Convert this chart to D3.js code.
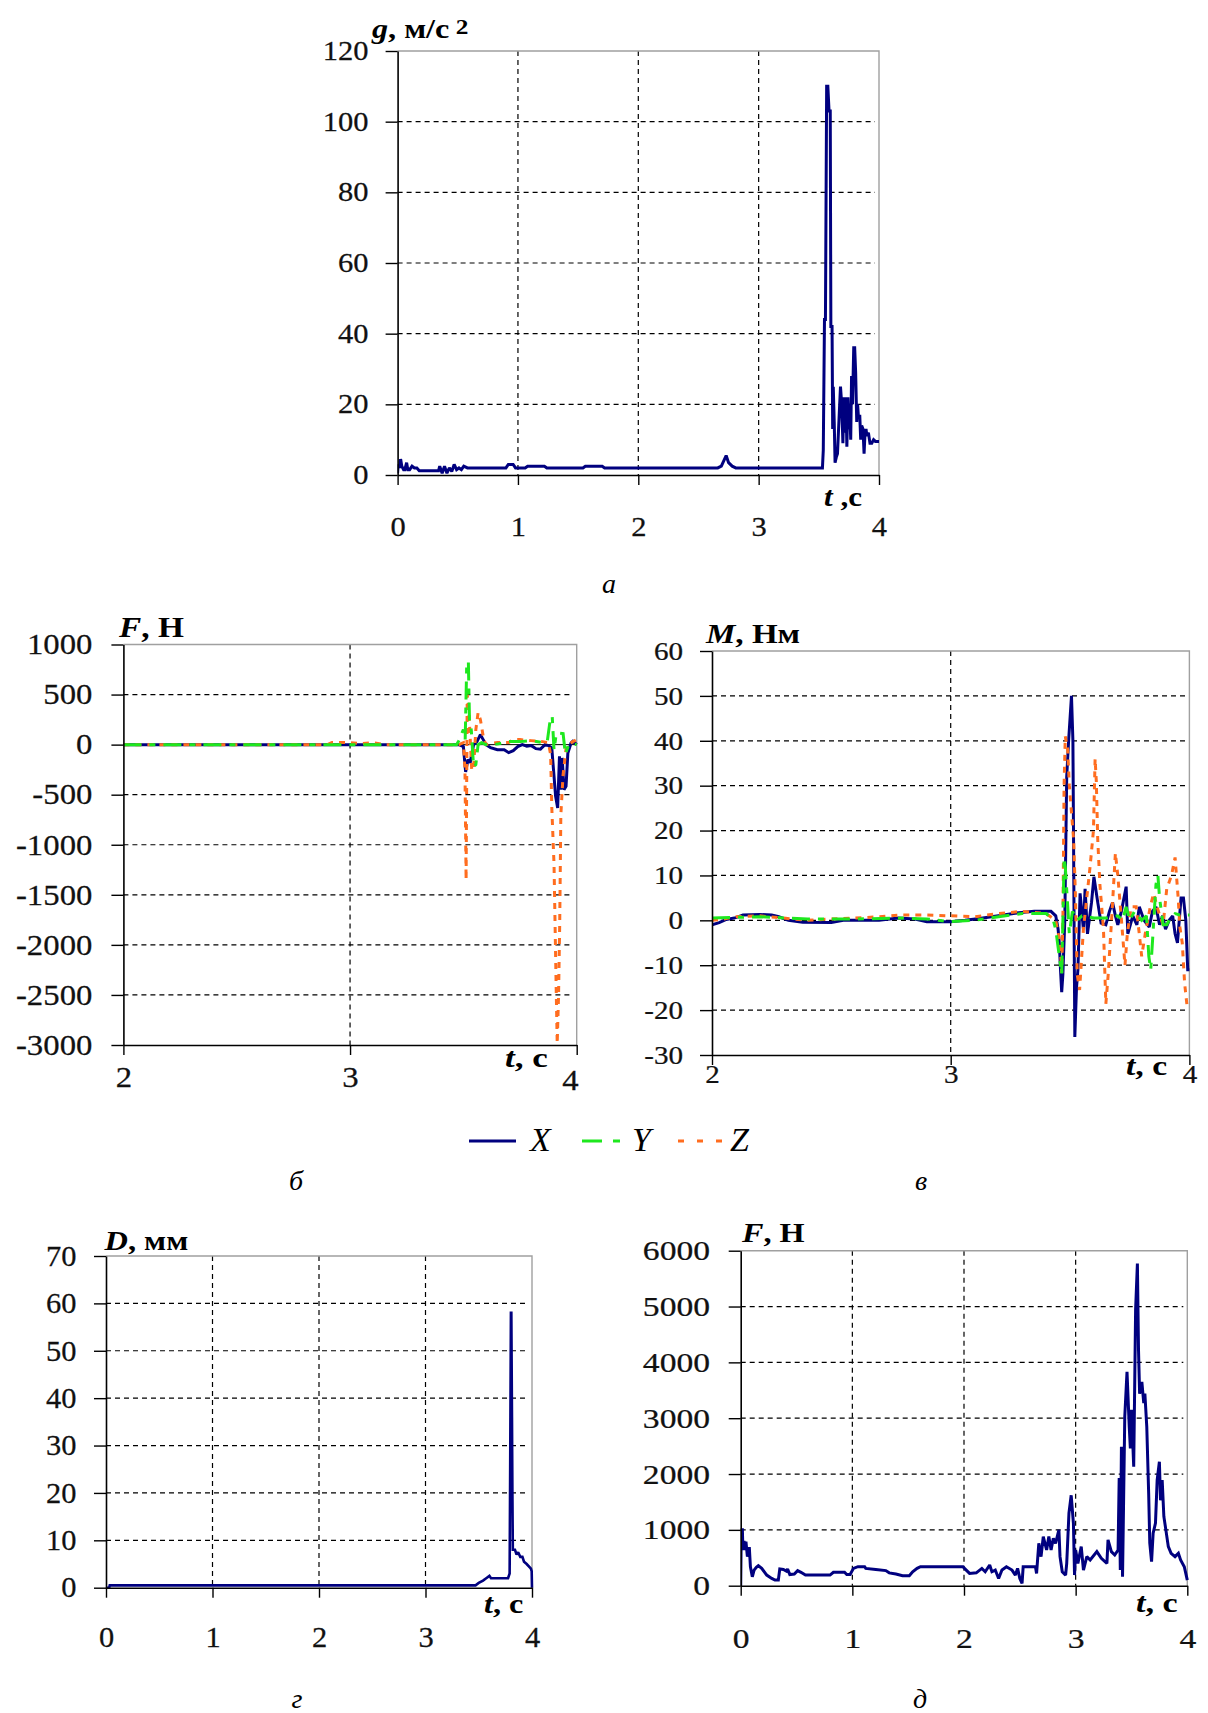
<!DOCTYPE html>
<html><head><meta charset="utf-8">
<script src="https://cdn.jsdelivr.net/npm/d3@7"></script>
<style>body{margin:0;background:#fff}svg{display:block}</style>
</head><body>
<svg id="fig" width="1208" height="1713"></svg>
<script>
// ---------- DATA ----------
// (а) acceleration g, m/s^2
const gT = [0,0.005,0.015,0.025,0.035,0.05,0.06,0.075,0.085,0.1,0.12,0.14,0.16,0.18,0.2,0.34,0.35,0.37,0.39,0.41,0.43,0.45,0.47,0.49,0.51,0.53,0.55,0.58,0.9,0.92,0.96,0.98,1.06,1.08,1.22,1.24,1.54,1.56,1.7,1.72,2.66,2.69,2.71,2.73,2.75,2.78,2.81,3.53,3.537,3.547,3.555,3.565,3.575,3.585,3.595,3.6,3.61,3.615,3.62,3.628,3.635,3.645,3.655,3.668,3.68,3.69,3.7,3.708,3.717,3.725,3.733,3.742,3.75,3.758,3.765,3.772,3.78,3.79,3.798,3.806,3.815,3.822,3.83,3.84,3.848,3.856,3.867,3.876,3.884,3.892,3.9,3.912,3.925,3.94,3.955,3.97,4.0];
const gV = [0.5,3,2,4.5,2.5,1.5,1.5,3.5,1.5,1.5,2.5,2,2,1.2,1.2,1.2,2.5,0.5,2.5,0.5,2,1,3,1.5,2,1.5,2.5,2,2,3,3,2,2,2.5,2.5,2,2,2.5,2.5,2,2,2.5,4,5.5,3.5,2.5,2,2,7,44,44,110,110,103,103,42,42,13,25,15,3.5,5,6,16,25,20,9,22,12,22,8,22,13,18,10,28,20,36,36,29,15,20,16,17,10,14,13,6,12,13,11,12,9,9,10,9.5,9.5];

// (б) forces F, N  (X, Y, Z)
const fxT = [2,3.48,3.5,3.51,3.52,3.53,3.545,3.56,3.575,3.585,3.6,3.62,3.65,3.68,3.7,3.72,3.74,3.76,3.78,3.8,3.82,3.84,3.86,3.875,3.89,3.9,3.907,3.916,3.924,3.93,3.936,3.944,3.953,3.961,3.975,3.983,4.0];
const fxV = [0,0,-20,-272,-150,-180,0,30,100,60,0,-30,-50,-50,-80,-60,-20,0,-15,-10,-40,-45,0,-10,-33,-317,-517,-633,-117,-450,-133,-450,-417,-83,17,33,0];
const fyT = [2,3.47,3.48,3.5,3.508,3.515,3.522,3.527,3.535,3.545,3.555,3.565,3.58,3.6,3.65,3.7,3.75,3.8,3.85,3.87,3.885,3.892,3.9,3.91,3.925,3.94,3.95,3.965,3.98,4.0];
const fyV = [0,0,40,150,50,827,827,245,145,-222,-200,0,20,0,5,30,30,40,20,30,280,280,-55,115,115,110,-95,0,10,0];
const fzT = [2,2.9,2.92,3.0,3.05,3.1,3.15,3.48,3.5,3.507,3.512,3.517,3.525,3.537,3.545,3.555,3.565,3.575,3.59,3.6,3.62,3.65,3.7,3.72,3.75,3.8,3.85,3.875,3.885,3.89,3.9,3.91,3.914,3.92,3.925,3.93,3.94,3.955,3.975,4.0];
const fzV = [0,0,20,20,10,20,0,0,20,-250,-1350,500,300,-260,-230,150,320,250,50,0,10,20,20,50,50,40,30,20,-100,-620,-1200,-2500,-2985,-2500,-1800,-700,-300,0,20,50];

// (в) moments M, N·m  (X, Y, Z)
const mxT = [2,2.03,2.06,2.1,2.13,2.2,2.25,2.28,2.32,2.38,2.5,2.55,2.7,2.78,2.85,2.9,3.0,3.06,3.12,3.2,3.27,3.35,3.42,3.44,3.45,3.455,3.46,3.465,3.47,3.478,3.486,3.494,3.506,3.512,3.52,3.527,3.533,3.542,3.556,3.563,3.573,3.59,3.6,3.616,3.63,3.65,3.665,3.678,3.69,3.7,3.715,3.735,3.742,3.763,3.78,3.79,3.81,3.832,3.845,3.86,3.875,3.888,3.9,3.915,3.93,3.94,3.95,3.965,3.975,3.985,3.993,4.0];
const mxV = [-1,-0.5,0.2,0.6,1.2,1.3,1.2,0.8,0,-0.4,-0.5,0,0,0.5,0.3,-0.3,-0.3,0,0.4,1,1.6,2,2,1,-2,-5,-11,-16,-12,0,32,40,50,40,-26,-15,-11,6,-2,7,-3,4,9.7,4,-0.6,-1,2,4,1,-1,2,7.5,-3,1,-1,3,0,-1.5,2,3,-1,1,-2,0,1,-3,-5,5,5,0,-11,-11];
const myT = [2,2.2,2.4,2.6,2.8,2.9,3.0,3.1,3.2,3.3,3.4,3.43,3.44,3.455,3.465,3.47,3.475,3.48,3.487,3.497,3.51,3.53,3.55,3.6,3.65,3.7,3.72,3.735,3.75,3.77,3.8,3.82,3.83,3.838,3.845,3.86,3.868,3.875,3.89,3.905,3.92,3.94,3.96,4.0];
const myV = [0.5,0.8,0.3,0.3,0.5,0.3,-0.3,0,0.8,1.5,1.5,0,-2,-8,-12,0,14,12,6,-3,2,0,1,0.5,0.5,1,0,3,0,2,0,1,-8,-11,-5,8,10,5,-1,-1,0.5,1.5,1.2,1.2];
const mzT = [2,2.05,2.1,2.2,2.3,2.4,2.5,2.6,2.7,2.8,2.9,3.0,3.1,3.2,3.3,3.4,3.44,3.458,3.465,3.47,3.475,3.48,3.49,3.497,3.515,3.522,3.53,3.54,3.556,3.57,3.584,3.598,3.605,3.61,3.616,3.625,3.64,3.65,3.66,3.675,3.69,3.7,3.717,3.73,3.74,3.756,3.777,3.79,3.8,3.815,3.836,3.85,3.87,3.89,3.905,3.925,3.94,3.953,3.96,3.97,3.98,3.99,4.0];
const mzV = [0,0.3,0.8,1,0.5,0,0.3,0.5,0.8,1.2,1.2,1,0.8,1.5,2,1.5,0,-5,-11.7,0,30,41,38,30,18,6.5,-12,-15.5,-2,5,12,20,36,31,18,8,-2,-18.6,-12,1,15,10,-1,-10,-3,3,3,-3,-8,-3,3,6,2,-1,7,10,14,5,-1.5,-5,-14,-19,-19];

// (г) displacement D, mm
const dT = [0,0.03,0.035,3.47,3.5,3.54,3.57,3.6,3.615,3.775,3.79,3.795,3.802,3.806,3.812,3.816,3.82,3.84,3.855,3.87,3.89,3.91,3.925,3.95,3.99,3.997,4.0];
const dV = [0,0,0.5,0.5,1,1.5,2,2.5,2,2,3,25,58,58,36,20,8,8,7,7.5,6.5,6.5,5.5,5,4,3.5,0];

// (д) force F, N
const frT = [0,0.005,0.015,0.02,0.03,0.04,0.047,0.06,0.077,0.087,0.104,0.12,0.14,0.158,0.188,0.233,0.278,0.307,0.337,0.35,0.382,0.41,0.42,0.44,0.48,0.51,0.54,0.58,0.8,0.83,0.93,0.95,0.98,1.01,1.05,1.11,1.12,1.21,1.3,1.33,1.39,1.45,1.51,1.54,1.58,1.61,1.99,2.02,2.05,2.11,2.16,2.19,2.23,2.25,2.28,2.31,2.34,2.38,2.43,2.46,2.48,2.5,2.52,2.53,2.64,2.65,2.67,2.69,2.71,2.74,2.76,2.78,2.8,2.82,2.85,2.86,2.88,2.91,2.92,2.94,2.96,2.98,2.99,3.0,3.02,3.05,3.07,3.1,3.13,3.19,3.23,3.28,3.29,3.32,3.35,3.38,3.39,3.4,3.41,3.42,3.44,3.46,3.48,3.49,3.5,3.52,3.537,3.553,3.563,3.573,3.593,3.61,3.62,3.637,3.654,3.664,3.68,3.694,3.715,3.73,3.75,3.76,3.775,3.79,3.808,3.83,3.855,3.89,3.92,3.94,3.973,4.0];
const frV = [0,1000,1000,640,800,640,790,520,690,340,160,280,330,360,310,190,130,100,100,300,290,260,300,200,210,270,240,190,190,240,240,200,200,310,340,340,310,290,270,230,210,180,180,250,310,340,340,280,220,230,310,250,370,250,280,130,280,340,280,190,310,130,40,340,340,220,760,520,880,640,880,640,850,760,1000,520,250,190,400,1300,1620,1117,190,640,400,700,280,520,460,610,490,400,820,610,550,640,1930,280,2490,160,3030,3830,2850,2460,3150,2130,4940,5770,4220,3440,3650,3270,3440,2850,1650,760,430,940,1120,1890,2220,1530,1890,1240,1000,700,580,520,580,460,340,100];

// tick values
const ticks0to4 = [0,1,2,3,4];
const ticks2to4 = [2,3,4];
const gYTicks = [0,20,40,60,80,100,120];
const fYTicks = [-3000,-2500,-2000,-1500,-1000,-500,0,500,1000];
const mYTicks = [-30,-20,-10,0,10,20,30,40,50,60];
const dYTicks = [0,10,20,30,40,50,60,70];
const frYTicks = [0,1000,2000,3000,4000,5000,6000];
const legendNames = ['X','Y','Z'];

// ---------- STYLE ----------
const FONT = '"Liberation Serif","Times New Roman",serif';
const NAVY = '#00007f', GREEN = '#1ee81e', ORANGE = '#ff6d1f';
const styleX = {color: NAVY, dash: null, w: 3};
const styleY = {color: GREEN, dash: '18,8,6,8', w: 3};
const styleZ = {color: ORANGE, dash: '6,6', w: 3};

const svg = d3.select('#fig');
const defs = svg.append('defs');
let clipN = 0;

function stretch(sel, sx) {
  sel.each(function() {
    const t = d3.select(this);
    const x = +t.attr('x') || 0;
    t.attr('x', x / sx).attr('transform', `scale(${sx},1)`);
  });
}

function richText(x, y, parts, fs, sx, opts = {}) {
  const t = svg.append('text')
    .attr('transform', `translate(${x},${y}) scale(${sx},1)`)
    .attr('font-family', FONT).attr('font-size', fs)
    .attr('font-weight', opts.weight || 'bold')
    .attr('font-style', opts.style || 'normal')
    .attr('fill', '#000');
  parts.forEach(p => {
    const s = t.append('tspan').text(p.t);
    if (p.i) s.attr('font-style', 'italic');
    if (p.fs) s.attr('font-size', p.fs);
    if (p.dy) s.attr('dy', p.dy);
  });
  return t;
}

function panel(c) {
  const x = d3.scaleLinear().domain(c.xDomain).range([c.left, c.right]);
  const y = d3.scaleLinear().domain(c.yDomain).range([c.bottom, c.top]);
  const g = svg.append('g');

  // grid
  const gridY = c.yTicks.filter(v => v !== c.yDomain[0] && v !== c.yDomain[1] && !(c.zeroSolid && v === 0));
  g.selectAll('line.gy').data(gridY).join('line')
    .attr('x1', c.left).attr('x2', c.right - 4)
    .attr('y1', d => y(d)).attr('y2', d => y(d))
    .attr('stroke', '#000').attr('stroke-width', 1.2).attr('stroke-dasharray', '5,4');
  const gridX = c.xTicks.filter(v => v !== c.xDomain[0] && v !== c.xDomain[1]);
  g.selectAll('line.gx').data(gridX).join('line')
    .attr('x1', d => x(d)).attr('x2', d => x(d))
    .attr('y1', c.top).attr('y2', c.bottom)
    .attr('stroke', '#000').attr('stroke-width', 1.2).attr('stroke-dasharray', '5,4');
  if (c.zeroSolid) {
    g.append('line').attr('x1', c.left).attr('x2', c.right)
      .attr('y1', y(0)).attr('y2', y(0)).attr('stroke', '#000').attr('stroke-width', 1);
  }
  // gray frame (top, right)
  g.append('path')
    .attr('d', `M${c.left},${c.top}H${c.right}V${c.bottom}`)
    .attr('fill', 'none').attr('stroke', '#a0a0a0').attr('stroke-width', 1.4);

  // series
  const id = 'clip' + (clipN++);
  defs.append('clipPath').attr('id', id).append('rect')
    .attr('x', c.left).attr('y', c.top - 2)
    .attr('width', c.right - c.left + 2).attr('height', c.bottom - c.top + 4);
  const line = d3.line().x(d => x(d[0])).y(d => y(d[1]));
  const sg = g.append('g').attr('clip-path', `url(#${id})`);
  c.series.forEach(s => {
    const pts = s.t.map((t, i) => [t, s.v[i]]);
    sg.append('path').datum(pts).attr('d', line)
      .attr('fill', 'none').attr('stroke', s.style.color)
      .attr('stroke-width', s.w || s.style.w)
      .attr('stroke-linejoin', 'miter').attr('stroke-miterlimit', 2)
      .attr('stroke-dasharray', s.style.dash);
  });

  // axes
  const ya = g.append('g').attr('transform', `translate(${c.left},0)`)
    .call(d3.axisLeft(y).tickValues(c.yTicks).tickSizeInner(12).tickSizeOuter(0)
      .tickPadding(c.yPad).tickFormat(d => String(d)));
  const xa = g.append('g').attr('transform', `translate(0,${c.bottom})`)
    .call(d3.axisBottom(x).tickValues(c.xTicks).tickSizeInner(10).tickSizeOuter(0)
      .tickPadding(c.xPad).tickFormat(d => String(d)));
  [ya, xa].forEach(a => {
    a.select('.domain').attr('stroke', '#000').attr('stroke-width', 1.6);
    a.selectAll('.tick line').attr('stroke', '#000').attr('stroke-width', 1.4);
    a.selectAll('text').attr('font-family', FONT).attr('font-size', c.fs).attr('fill', '#111')
      .attr('stroke', '#111').attr('stroke-width', 0.25);
    stretch(a.selectAll('text'), c.sx);
  });
  if (c.lastXShift) {
    xa.selectAll('.tick text').filter(d => d === c.xDomain[1])
      .attr('dx', c.lastXShift[0])
      .attr('y', function() { return +d3.select(this).attr('y') + c.lastXShift[1]; });
  }
  return {x, y};
}

// (а)
panel({left: 397.6, right: 879, top: 51, bottom: 475, xDomain: [0,4], yDomain: [0,120],
  xTicks: ticks0to4, yTicks: gYTicks, yPad: 17, xPad: 32, fs: 27, sx: 1.13,
  series: [{t: gT, v: gV, style: styleX}]});
richText(372, 38, [{t: 'g', i: true}, {t: ', м/с'}, {t: ' 2', fs: 22, dy: -4}], 28, 1.15);
richText(824, 506, [{t: 't', i: true}, {t: ' ,с'}], 27, 1.15);

// (б)
panel({left: 123.4, right: 576.7, top: 644.5, bottom: 1045, xDomain: [2,4], yDomain: [-3000,1000],
  xTicks: ticks2to4, yTicks: fYTicks, yPad: 19, xPad: 11, fs: 29, sx: 1.13, zeroSolid: true,
  lastXShift: [-6, 3],
  series: [{t: fxT, v: fxV, style: styleX}, {t: fzT, v: fzV, style: styleZ}, {t: fyT, v: fyV, style: styleY}]});
richText(119, 637, [{t: 'F', i: true}, {t: ', Н'}], 29, 1.15);
richText(505, 1067, [{t: 't', i: true}, {t: ', с'}], 28, 1.25);

// (в)
panel({left: 712, right: 1189.4, top: 651, bottom: 1055, xDomain: [2,4], yDomain: [-30,60],
  xTicks: ticks2to4, yTicks: mYTicks, yPad: 17, xPad: 0, fs: 26, sx: 1.12,
  series: [{t: mxT, v: mxV, style: styleX}, {t: mzT, v: mzV, style: styleZ}, {t: myT, v: myV, style: styleY}]});
richText(706, 643, [{t: 'M', i: true}, {t: ', Нм'}], 28, 1.18);
richText(1126, 1075, [{t: 't', i: true}, {t: ', с'}], 28, 1.2);

// legend
const lg = svg.append('g');
const legendItems = [
  {name: legendNames[0], style: styleX, x1: 469, x2: 516, tx: 530, dash: null},
  {name: legendNames[1], style: styleY, x1: 582, x2: 622, tx: 632, dash: '20,11,7,11'},
  {name: legendNames[2], style: styleZ, x1: 678, x2: 722, tx: 730, dash: '6,13'}
];
legendItems.forEach(it => {
  lg.append('line').attr('x1', it.x1).attr('x2', it.x2).attr('y1', 1141).attr('y2', 1141)
    .attr('stroke', it.style.color).attr('stroke-width', 3.2).attr('stroke-dasharray', it.dash);
  lg.append('text').attr('x', it.tx).attr('y', 1150.5).text(it.name)
    .attr('font-family', FONT).attr('font-size', 34).attr('font-style', 'italic');
});

// (г)
panel({left: 106, right: 532, top: 1256, bottom: 1587.7, xDomain: [0,4], yDomain: [0,70],
  xTicks: ticks0to4, yTicks: dYTicks, yPad: 17.5, xPad: 29, fs: 29, sx: 1.05,
  series: [{t: dT, v: dV, style: styleX, w: 2.6}]});
richText(104.5, 1250, [{t: 'D', i: true}, {t: ', мм'}], 27, 1.2);
richText(484, 1613, [{t: 't', i: true}, {t: ', с'}], 28, 1.15);

// (д)
panel({left: 740.7, right: 1187.3, top: 1250.7, bottom: 1585.7, xDomain: [0,4], yDomain: [0,6000],
  xTicks: ticks0to4, yTicks: frYTicks, yPad: 18.7, xPad: 32, fs: 28, sx: 1.2,
  series: [{t: frT, v: frV, style: styleX, w: 3}]});
richText(742, 1242, [{t: 'F', i: true}, {t: ', Н'}], 28, 1.15);
richText(1136, 1612, [{t: 't', i: true}, {t: ', с'}], 28, 1.22);

// captions
[['а', 609, 593], ['б', 296, 1190], ['в', 921, 1190], ['г', 297, 1708], ['д', 920, 1708]].forEach(c => {
  svg.append('text').attr('x', c[1]).attr('y', c[2]).text(c[0])
    .attr('text-anchor', 'middle').attr('font-family', FONT)
    .attr('font-size', 28).attr('font-style', 'italic');
});
</script>
</body></html>
